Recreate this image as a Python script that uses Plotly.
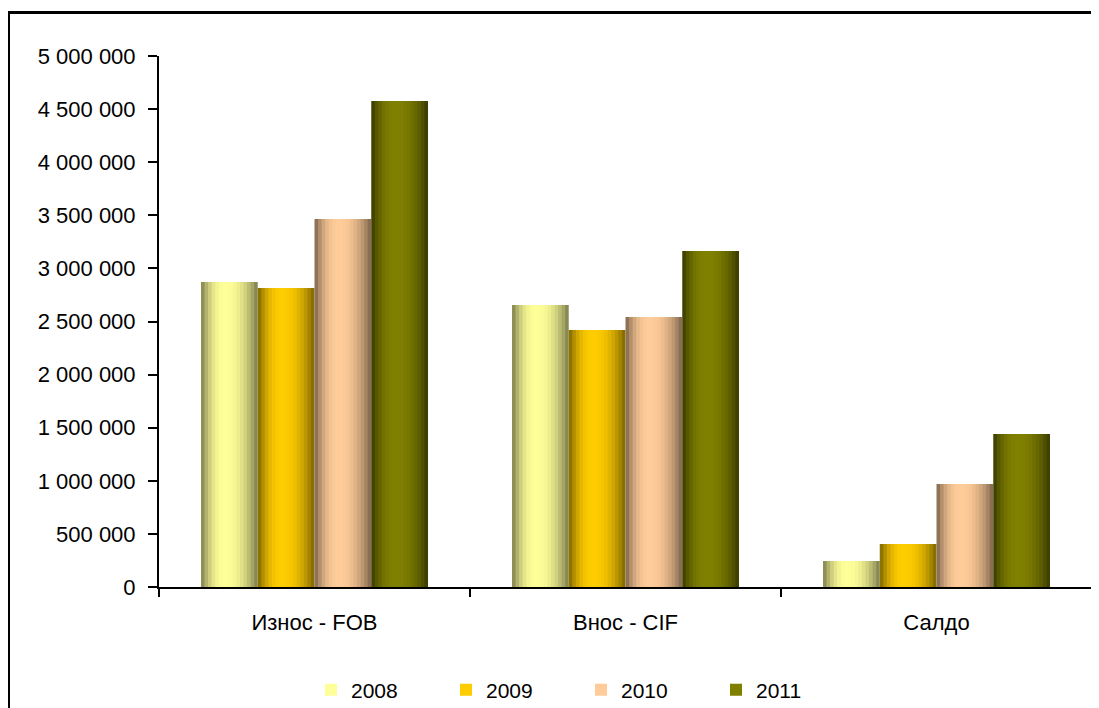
import plotly.graph_objects as go

categories = ["Износ - FOB", "Внос - CIF", "Салдо"]
years = ["2008", "2009", "2010", "2011"]
values = {
    "2008": [2872000, 2655000, 245000],
    "2009": [2815000, 2420000, 405000],
    "2010": [3465000, 2542000, 970000],
    "2011": [4576000, 3164000, 1441000],
}
center_colors = {
    "2008": (255, 255, 153),
    "2009": (255, 204, 0),
    "2010": (255, 204, 153),
    "2011": (128, 128, 0),
}
edge_colors = {
    "2008": (122, 122, 76),
    "2009": (122, 98, 0),
    "2010": (122, 98, 74),
    "2011": (56, 56, 0),
}

FONT = "Liberation Sans, Arial, sans-serif"
N_SLICES = 16
GROUP_WIDTH = 0.73
BAR_W = GROUP_WIDTH / len(years)
STEP = BAR_W / N_SLICES
PEAK = 0.42

# page body has an 8px margin: the figure is sized / positioned to compensate
W, H = 1091, 700
FRAME_L, FRAME_T = 2, 6              # outer chart-area frame (top and left edges)
L, T = 151, 48                       # inner plot area
PLOT_R, PLOT_B = 1084, 579
PAPER_W, PAPER_H = W - FRAME_L, H - FRAME_T


def shade(t, c0, c1):
    h = PEAK if t < PEAK else 1 - PEAK
    v = 1 - (abs(t - PEAK) / h) ** 2.2
    v = max(0.0, min(1.0, v))
    return "rgb(%d,%d,%d)" % tuple(round(e + (c - e) * v) for e, c in zip(c0, c1))


fig = go.Figure()
for i, y in enumerate(years):
    for j in range(N_SLICES):
        t = (j + 0.5) / N_SLICES
        off = -GROUP_WIDTH / 2 + i * BAR_W + j * STEP
        w = STEP * 1.6 if j < N_SLICES - 1 else STEP
        fig.add_trace(go.Bar(
            x=categories,
            y=values[y],
            name=y,
            legendgroup=y,
            showlegend=(j == int(N_SLICES * PEAK)),
            offset=off,
            width=w,
            marker=dict(color=shade(t, edge_colors[y], center_colors[y]), line=dict(width=0)),
            hovertemplate="%{x}<br>" + y + ": %{y:,.0f}<extra></extra>",
        ))

# empty helper subplot whose axis lines form the outer frame
fig.add_trace(go.Scatter(x=[], y=[], xaxis="x2", yaxis="y2", showlegend=False, hoverinfo="skip"))

frame_axis = dict(
    domain=[0, 1], showline=True, linecolor="black", linewidth=3,
    showticklabels=False, ticks="", showgrid=False, zeroline=False,
    range=[0, 1], fixedrange=True,
)

fig.update_layout(
    barmode="overlay",
    width=W,
    height=H,
    margin=dict(l=FRAME_L, r=0, t=FRAME_T, b=0, pad=0, autoexpand=False),
    paper_bgcolor="white",
    plot_bgcolor="rgba(0,0,0,0)",
    separators=", ",
    font=dict(family=FONT, size=22, color="black"),
    showlegend=True,
    legend=dict(
        orientation="h",
        xref="container",
        x=573 / W, xanchor="center",
        yref="container",
        y=(H - 682) / H, yanchor="middle",
        font=dict(family=FONT, size=21, color="black"),
        entrywidth=90,
        traceorder="normal",
        itemclick=False,
    ),
    xaxis=dict(
        type="category",
        domain=[(L - FRAME_L) / PAPER_W, (PLOT_R - FRAME_L) / PAPER_W],
        range=[-0.5, 2.5],
        showline=True, linecolor="black", linewidth=2,
        ticks="outside", ticklen=8, tickwidth=2, tickcolor="black",
        tickson="boundaries",
        ticklabelstandoff=15,
        showgrid=False, zeroline=False,
    ),
    yaxis=dict(
        domain=[(H - PLOT_B) / PAPER_H, (H - T) / PAPER_H],
        range=[0, 5000000],
        tick0=0, dtick=500000,
        tickformat=",d",
        showline=True, linecolor="black", linewidth=2,
        ticks="outside", ticklen=9, tickwidth=2, tickcolor="black",
        ticklabelstandoff=8,
        showgrid=False, zeroline=False,
    ),
    xaxis2=dict(frame_axis, anchor="y2", side="top"),
    yaxis2=dict(frame_axis, anchor="x2", side="left"),
)

fig.write_html("out.html")
